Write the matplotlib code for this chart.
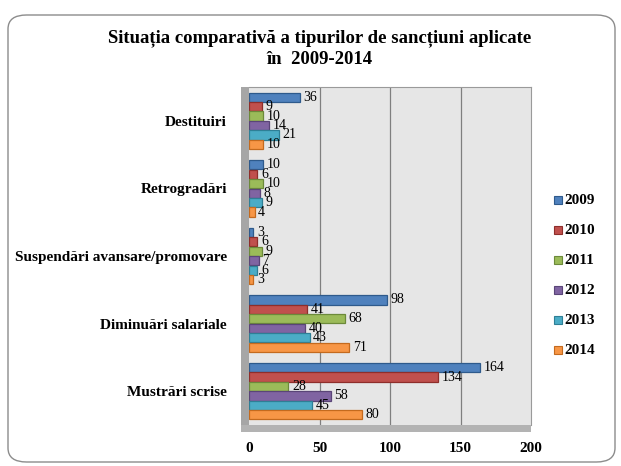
import matplotlib
matplotlib.use("Agg")
import matplotlib.pyplot as plt
from matplotlib.patches import FancyBboxPatch, Rectangle
import numpy as np

plt.rcParams['font.family'] = ['Liberation Serif', 'DejaVu Serif']

categories = ["Destituiri", "Retrogradări", "Suspendări avansare/promovare",
              "Diminuări salariale", "Mustrări scrise"]
years = ["2009", "2010", "2011", "2012", "2013", "2014"]
v2009 = [36, 10, 3, 98, 164]
v2010 = [9, 6, 6, 41, 134]
v2011 = [10, 10, 9, 68, 28]
v2012 = [14, 8, 7, 40, 58]
v2013 = [21, 9, 6, 43, 45]
v2014 = [10, 4, 3, 71, 80]
series = [v2009, v2010, v2011, v2012, v2013, v2014]
colors = ["#4F81BD", "#C0504D", "#9BBB59", "#8064A2", "#4BACC6", "#F79646"]
edges = ["#2E5A8C", "#8E2E2B", "#6C8A3A", "#5A4578", "#2E7F96", "#C46A1E"]
xticks = [0, 50, 100, 150, 200]

W, H = 621, 466
fig = plt.figure(figsize=(W / 100, H / 100), dpi=100)

# outer rounded border
border = FancyBboxPatch((8 / W, 4 / H), (W - 14) / W, (H - 19) / H,
                        boxstyle="round,pad=0,rounding_size=0.03",
                        transform=fig.transFigure, fill=False,
                        edgecolor="#8c8c8c", linewidth=1.0)
fig.patches.append(border)

left, right = 249 / W, 531 / W
top_px, bot_px = 87, 425
ax = fig.add_axes([left, 1 - bot_px / H, right - left, (bot_px - top_px) / H])
ax.set_facecolor("#E6E6E6")

bh = 0.14
y = np.arange(len(categories))
for k, (vals, c, ec) in enumerate(zip(series, colors, edges)):
    pos = y - 0.42 + bh * (k + 0.5)
    ax.barh(pos, vals, height=bh * 0.97, color=c, edgecolor=ec, linewidth=0.9, zorder=3)
    for p, v in zip(pos, vals):
        ax.text(v + 2.5, p, str(v), va="center", ha="left", fontsize=10, zorder=4)

ax.set_ylim(4.5, -0.5)
ax.set_xlim(0, 200)
ax.set_xticks(xticks)
ax.set_xticklabels([str(t) for t in xticks], fontsize=11, fontweight="bold")
ax.set_yticks(y)
ax.set_yticklabels(categories, fontsize=11, fontweight="bold")
ax.tick_params(axis="both", length=0)
ax.tick_params(axis="y", pad=16)
ax.tick_params(axis="x", pad=12)
for t in xticks[1:-1]:
    ax.axvline(t, color="#7f7f7f", linewidth=0.9, zorder=1)
for s in ax.spines.values():
    s.set_visible(False)
ax.spines["right"].set_visible(True)
ax.spines["right"].set_color("#9a9a9a")
ax.spines["top"].set_visible(True)
ax.spines["top"].set_color("#9a9a9a")

# 3D side wall and floor
fig.patches.append(Rectangle((241 / W, 1 - (bot_px + 6) / H), 8 / W, (bot_px - top_px + 6) / H,
                             transform=fig.transFigure, facecolor="#A6A6A6",
                             edgecolor="none", zorder=0))
fig.patches.append(Rectangle((241 / W, 1 - (bot_px + 7) / H), (right * W - 241) / W, 7 / H,
                             transform=fig.transFigure, facecolor="#B3B3B3",
                             edgecolor="none", zorder=0))

fig.text(0.515, 1 - 38 / H, "Situația comparativă a tipurilor de sancțiuni aplicate",
         ha="center", va="center", fontsize=13.5, fontweight="bold")
fig.text(0.515, 1 - 60 / H, "în  2009-2014",
         ha="center", va="center", fontsize=13.5, fontweight="bold")

# legend
for k, (yr, c, ec) in enumerate(zip(years, colors, edges)):
    yy = 1 - (200 + 30 * k) / H
    fig.patches.append(Rectangle((554 / W, yy - 4 / H), 8 / W, 8 / H,
                                 transform=fig.transFigure, facecolor=c,
                                 edgecolor=ec, linewidth=0.8))
    fig.text(564 / W, yy, yr, ha="left", va="center", fontsize=11, fontweight="bold")

fig.savefig("out.png", dpi=100)
